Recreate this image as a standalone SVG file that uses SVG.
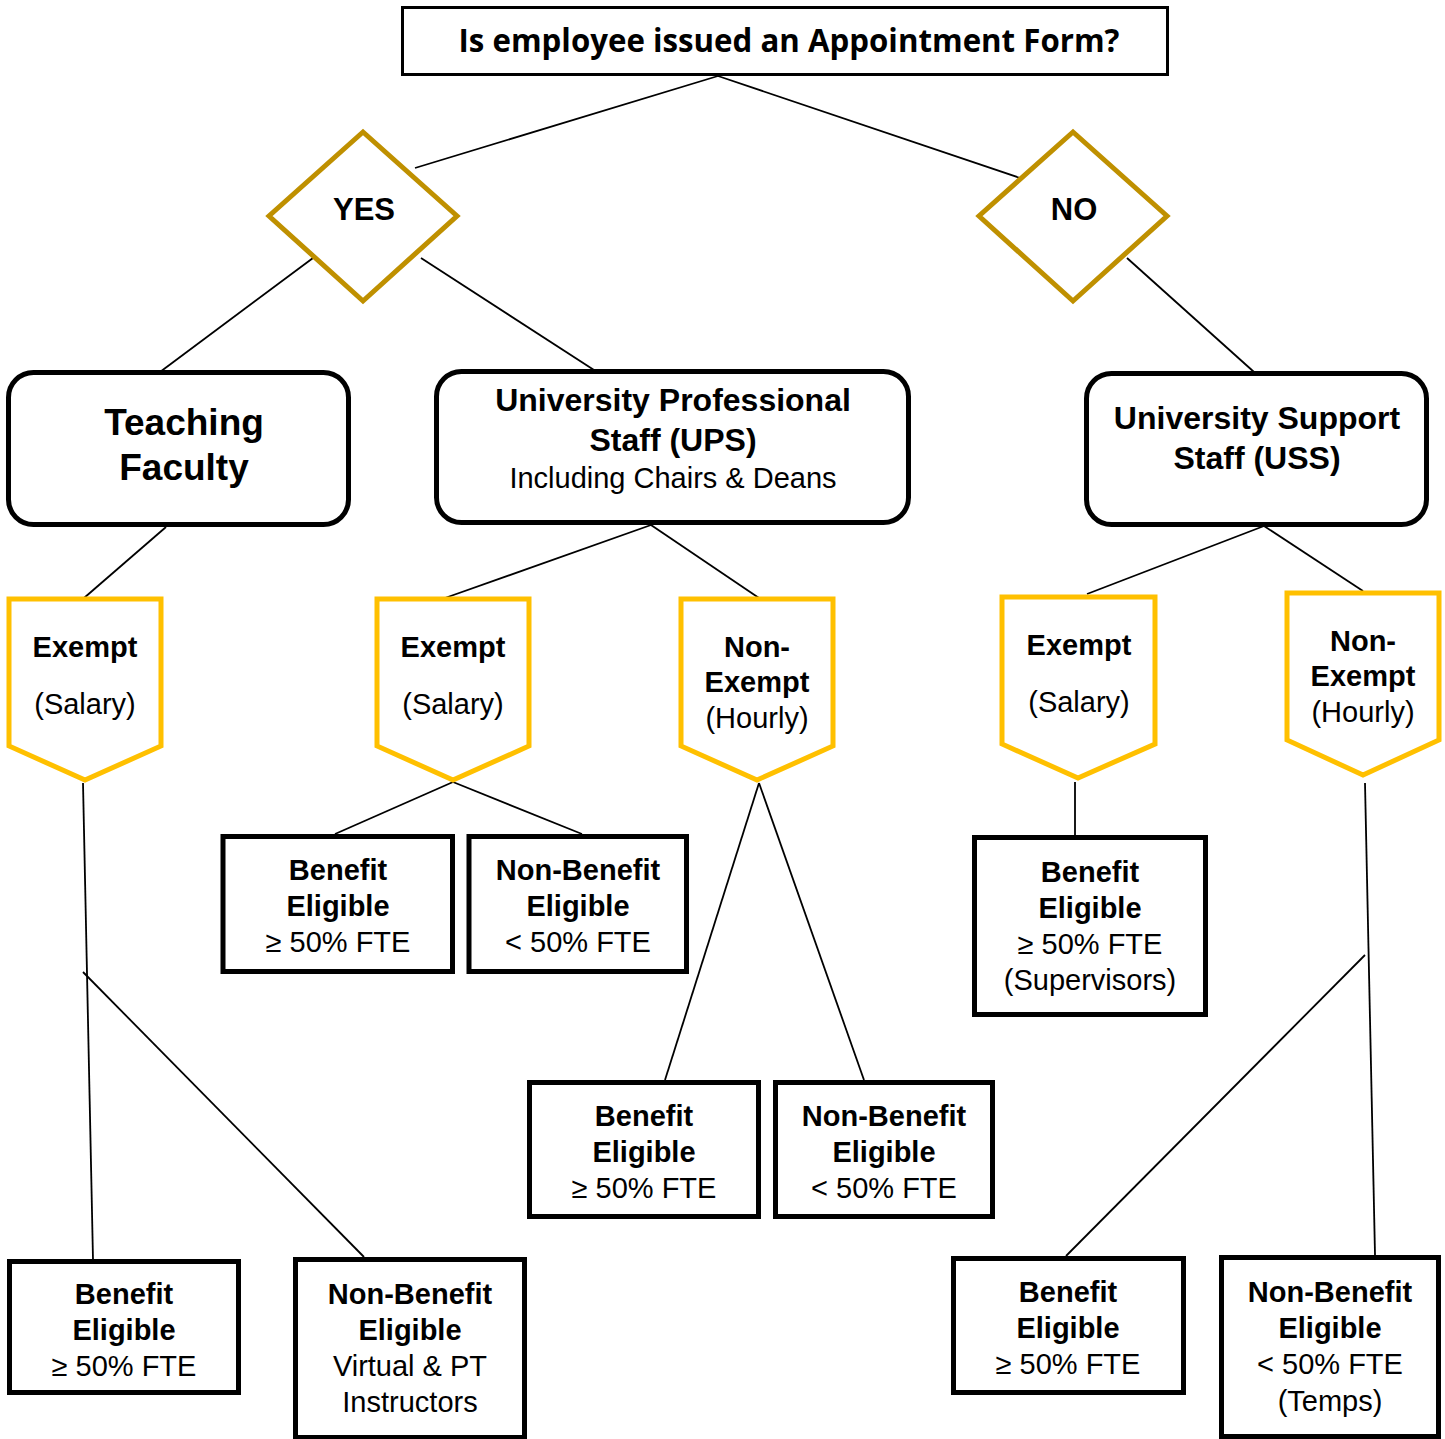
<svg xmlns="http://www.w3.org/2000/svg" width="1445" height="1439" viewBox="0 0 1445 1439">
<style>
text{font-family:"Liberation Sans",Arial,sans-serif;fill:#000;text-anchor:middle}
.b{font-weight:bold;font-size:29px}
.r{font-size:29px}
.h{font-weight:bold;font-size:32px}
.tf{font-weight:bold;font-size:37px}
.title{font-family:"Open Sans","Liberation Sans",sans-serif;font-weight:bold;font-size:32px}
.dia{fill:#fff;stroke:#BF9000;stroke-width:5}
.pent{fill:#fff;stroke:#FFC000;stroke-width:5}
.rr{fill:#fff;stroke:#000;stroke-width:5}
.box{fill:#fff;stroke:#000;stroke-width:5}
.conn line{stroke:#000;stroke-width:1.8}
</style>
<rect width="1445" height="1439" fill="#fff"/>
<g id="connectors" class="conn">
<line x1="718" y1="76" x2="415" y2="168"/>
<line x1="718" y1="76" x2="1020" y2="178"/>
<line x1="313" y1="258" x2="160" y2="372"/>
<line x1="421" y1="258" x2="594" y2="370"/>
<line x1="1127" y1="258" x2="1254" y2="372"/>
<line x1="166" y1="527" x2="84" y2="598"/>
<line x1="651" y1="525" x2="445" y2="598"/>
<line x1="651" y1="525" x2="759" y2="598"/>
<line x1="1264" y1="526" x2="1087" y2="594"/>
<line x1="1264" y1="526" x2="1363" y2="591"/>
<line x1="83" y1="783" x2="93" y2="1259"/>
<line x1="83" y1="972" x2="364" y2="1257"/>
<line x1="453" y1="782" x2="335" y2="834"/>
<line x1="453" y1="782" x2="582" y2="834"/>
<line x1="759" y1="783" x2="665" y2="1080"/>
<line x1="759" y1="783" x2="864" y2="1080"/>
<line x1="1075" y1="782" x2="1075" y2="835"/>
<line x1="1365" y1="783" x2="1375" y2="1255"/>
<line x1="1365" y1="955" x2="1066" y2="1256"/>
</g>
<g id="question">
<rect x="402.5" y="7.5" width="765" height="67" fill="#fff" stroke="#000" stroke-width="3"/>
<text class="title" x="789" y="52" textLength="661" lengthAdjust="spacingAndGlyphs">Is employee issued an Appointment Form?</text>
</g>
<g id="yes">
<polygon class="dia" points="363,132 457,216 363,301 269,216"/>
<text class="b" style="font-size:31px" x="364" y="220">YES</text>
</g>
<g id="no">
<polygon class="dia" points="1073,132 1167,216 1073,301 979,216"/>
<text class="b" style="font-size:31px" x="1074" y="220">NO</text>
</g>
<g id="teaching-faculty">
<rect class="rr" x="8.5" y="372.5" width="340" height="152" rx="25"/>
<text class="tf" x="184" y="435">Teaching</text>
<text class="tf" x="184" y="480">Faculty</text>
</g>
<g id="ups">
<rect class="rr" x="436.5" y="371.5" width="472" height="151" rx="25"/>
<text class="h" x="673" y="411">University Professional</text>
<text class="h" x="673" y="451">Staff (UPS)</text>
<text class="r" x="673" y="488">Including Chairs &amp; Deans</text>
</g>
<g id="uss">
<rect class="rr" x="1086.5" y="373.5" width="340" height="151" rx="25"/>
<text class="h" x="1257" y="429">University Support</text>
<text class="h" x="1257" y="469">Staff (USS)</text>
</g>
<g id="tf-exempt">
<polygon class="pent" points="9,599 161,599 161,746 85,780 9,746"/>
<text class="b" x="85" y="657">Exempt</text>
<text class="r" x="85" y="714">(Salary)</text>
</g>
<g id="ups-exempt">
<polygon class="pent" points="377,599 529,599 529,746 453,780 377,746"/>
<text class="b" x="453" y="657">Exempt</text>
<text class="r" x="453" y="714">(Salary)</text>
</g>
<g id="ups-nonexempt">
<polygon class="pent" points="681,599 833,599 833,746 757,780 681,746"/>
<text class="b" x="757" y="657">Non-</text>
<text class="b" x="757" y="692">Exempt</text>
<text class="r" x="757" y="728">(Hourly)</text>
</g>
<g id="uss-exempt">
<polygon class="pent" points="1002,597 1155,597 1155,744 1078,778 1002,744"/>
<text class="b" x="1079" y="655">Exempt</text>
<text class="r" x="1079" y="712">(Salary)</text>
</g>
<g id="uss-nonexempt">
<polygon class="pent" points="1287,593 1439,593 1439,740 1363,775 1287,740"/>
<text class="b" x="1363" y="651">Non-</text>
<text class="b" x="1363" y="686">Exempt</text>
<text class="r" x="1363" y="722">(Hourly)</text>
</g>
<g id="ups-ex-benefit">
<rect class="box" x="223" y="836.5" width="229.5" height="135"/>
<text class="b" x="338" y="880">Benefit</text>
<text class="b" x="338" y="916">Eligible</text>
<text class="r" x="338" y="952">≥ 50% FTE</text>
</g>
<g id="ups-ex-nonbenefit">
<rect class="box" x="469" y="836.5" width="217.5" height="135"/>
<text class="b" x="578" y="880">Non-Benefit</text>
<text class="b" x="578" y="916">Eligible</text>
<text class="r" x="578" y="952">&lt; 50% FTE</text>
</g>
<g id="uss-ex-benefit">
<rect class="box" x="974.5" y="837.5" width="231" height="177"/>
<text class="b" x="1090" y="882">Benefit</text>
<text class="b" x="1090" y="918">Eligible</text>
<text class="r" x="1090" y="954">≥ 50% FTE</text>
<text class="r" x="1090" y="990">(Supervisors)</text>
</g>
<g id="ups-nonex-benefit">
<rect class="box" x="529.5" y="1082.5" width="229" height="134"/>
<text class="b" x="644" y="1126">Benefit</text>
<text class="b" x="644" y="1162">Eligible</text>
<text class="r" x="644" y="1198">≥ 50% FTE</text>
</g>
<g id="ups-nonex-nonbenefit">
<rect class="box" x="775.5" y="1082.5" width="217" height="134"/>
<text class="b" x="884" y="1126">Non-Benefit</text>
<text class="b" x="884" y="1162">Eligible</text>
<text class="r" x="884" y="1198">&lt; 50% FTE</text>
</g>
<g id="tf-benefit">
<rect class="box" x="9.5" y="1261.5" width="229" height="131"/>
<text class="b" x="124" y="1304">Benefit</text>
<text class="b" x="124" y="1340">Eligible</text>
<text class="r" x="124" y="1376">≥ 50% FTE</text>
</g>
<g id="tf-nonbenefit">
<rect class="box" x="295.5" y="1259.5" width="229" height="178"/>
<text class="b" x="410" y="1304">Non-Benefit</text>
<text class="b" x="410" y="1340">Eligible</text>
<text class="r" x="410" y="1376">Virtual &amp; PT</text>
<text class="r" x="410" y="1412">Instructors</text>
</g>
<g id="uss-nonex-benefit">
<rect class="box" x="953.5" y="1258.5" width="230" height="134"/>
<text class="b" x="1068" y="1302">Benefit</text>
<text class="b" x="1068" y="1338">Eligible</text>
<text class="r" x="1068" y="1374">≥ 50% FTE</text>
</g>
<g id="uss-nonex-nonbenefit">
<rect class="box" x="1221.5" y="1257.5" width="217" height="179"/>
<text class="b" x="1330" y="1302">Non-Benefit</text>
<text class="b" x="1330" y="1338">Eligible</text>
<text class="r" x="1330" y="1374">&lt; 50% FTE</text>
<text class="r" x="1330" y="1411">(Temps)</text>
</g>
</svg>
